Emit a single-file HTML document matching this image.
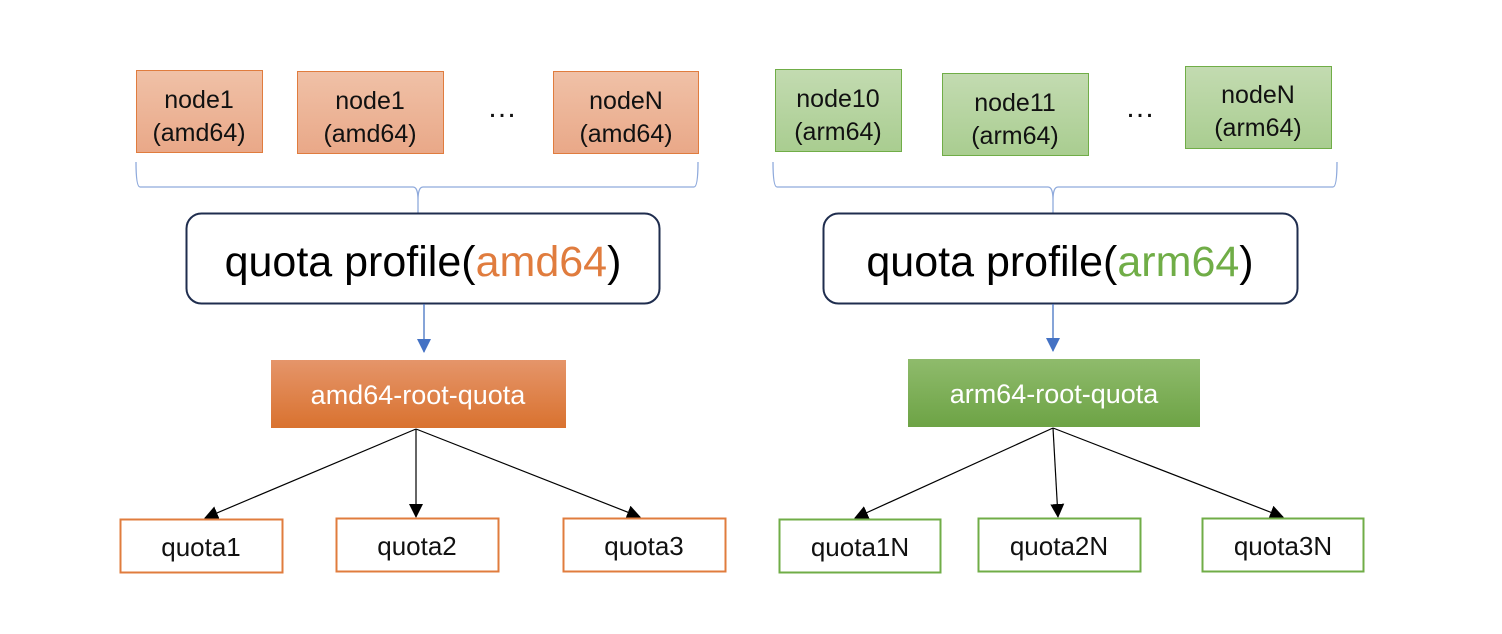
<!DOCTYPE html>
<html><head><meta charset="utf-8"><style>
html,body{margin:0;padding:0;background:#fff}
svg{display:block}
text{font-family:"Liberation Sans","Noto Sans CJK SC",sans-serif}
</style></head><body>
<svg width="1502" height="634" viewBox="0 0 1502 634" xmlns="http://www.w3.org/2000/svg">
<defs>
<linearGradient id="go" x1="0" y1="0" x2="0" y2="1"><stop offset="0" stop-color="#f0c1a7"/><stop offset="1" stop-color="#e9a888"/></linearGradient>
<linearGradient id="gg" x1="0" y1="0" x2="0" y2="1"><stop offset="0" stop-color="#c3dbb1"/><stop offset="1" stop-color="#a9cd90"/></linearGradient>
<linearGradient id="ro" x1="0" y1="0" x2="0" y2="1"><stop offset="0" stop-color="#e5956a"/><stop offset="1" stop-color="#d9722f"/></linearGradient>
<linearGradient id="rg" x1="0" y1="0" x2="0" y2="1"><stop offset="0" stop-color="#8fbb6c"/><stop offset="1" stop-color="#6da345"/></linearGradient>
<marker id="abl" markerWidth="14" markerHeight="16" refX="13" refY="8" orient="auto" markerUnits="userSpaceOnUse"><path d="M0,1 L14,8 L0,15 z" fill="#4472c4"/></marker>
<marker id="ak" markerWidth="14" markerHeight="14" refX="13" refY="7" orient="auto" markerUnits="userSpaceOnUse"><path d="M0,0 L14,7 L0,14 z" fill="#000"/></marker>
</defs>
<g font-size="25" fill="#111" text-anchor="middle">
<rect x="136.5" y="70.5" width="126" height="82" fill="url(#go)" stroke="#e07c3e"/>
<text x="199" y="108">node1</text><text x="199" y="141">(amd64)</text>
<rect x="297.5" y="71.5" width="146" height="82" fill="url(#go)" stroke="#e07c3e"/>
<text x="370" y="109">node1</text><text x="370" y="142">(amd64)</text>
<text x="502" y="117" font-size="30">…</text>
<rect x="553.5" y="71.5" width="145" height="82" fill="url(#go)" stroke="#e07c3e"/>
<text x="626" y="109">nodeN</text><text x="626" y="142">(amd64)</text>
<rect x="775.5" y="69.5" width="126" height="82" fill="url(#gg)" stroke="#70ad47"/>
<text x="838" y="107">node10</text><text x="838" y="140">(arm64)</text>
<rect x="942.5" y="73.5" width="146" height="82" fill="url(#gg)" stroke="#70ad47"/>
<text x="1015" y="111">node11</text><text x="1015" y="144">(arm64)</text>
<text x="1140" y="117" font-size="30">…</text>
<rect x="1185.5" y="66.5" width="146" height="82" fill="url(#gg)" stroke="#70ad47"/>
<text x="1258" y="103">nodeN</text><text x="1258" y="136">(arm64)</text>
</g>
<g fill="none" stroke="#8faadc" stroke-width="1.3">
<path d="M136,162 Q136,187 140,187 L413,187 Q418,187 418,200 L418,213 M418,200 Q418,187 423,187 L694,187 Q698,187 698,162"/>
<path d="M773,162 Q773,187 777,187 L1048,187 Q1053,187 1053,200 L1053,213 M1053,200 Q1053,187 1058,187 L1333,187 Q1337,187 1337,162"/>
</g>
<rect x="186.5" y="213.5" width="473" height="90" rx="15" fill="#fff" stroke="#1f2d4e" stroke-width="2"/>
<text x="423" y="276" font-size="43" text-anchor="middle" fill="#000">quota profile(<tspan fill="#e07c3e">amd64</tspan>)</text>
<rect x="823.5" y="213.5" width="474" height="90" rx="15" fill="#fff" stroke="#1f2d4e" stroke-width="2"/>
<text x="1060" y="276" font-size="43" text-anchor="middle" fill="#000">quota profile(<tspan fill="#70ad47">arm64</tspan>)</text>
<line x1="424" y1="304" x2="424" y2="352" stroke="#4472c4" stroke-width="1.3" marker-end="url(#abl)"/>
<line x1="1053" y1="304" x2="1053" y2="351" stroke="#4472c4" stroke-width="1.3" marker-end="url(#abl)"/>
<rect x="271" y="360" width="295" height="68" fill="url(#ro)"/>
<text x="418" y="404" font-size="27" fill="#fff" text-anchor="middle">amd64-root-quota</text>
<rect x="908" y="359" width="292" height="68" fill="url(#rg)"/>
<text x="1054" y="403" font-size="27" fill="#fff" text-anchor="middle">arm64-root-quota</text>
<g stroke="#000" stroke-width="1.2">
<line x1="416" y1="429" x2="205" y2="518" marker-end="url(#ak)"/>
<line x1="416" y1="429" x2="416" y2="517" marker-end="url(#ak)"/>
<line x1="416" y1="429" x2="640" y2="517" marker-end="url(#ak)"/>
<line x1="1053" y1="428" x2="855" y2="518" marker-end="url(#ak)"/>
<line x1="1053" y1="428" x2="1058" y2="517" marker-end="url(#ak)"/>
<line x1="1053" y1="428" x2="1283" y2="517" marker-end="url(#ak)"/>
</g>
<g font-size="26" fill="#111" text-anchor="middle">
<rect x="120.5" y="519.5" width="162" height="53" fill="#fff" stroke="#e07c3e" stroke-width="2"/><text x="201" y="556">quota1</text>
<rect x="336.5" y="518.5" width="162" height="53" fill="#fff" stroke="#e07c3e" stroke-width="2"/><text x="417" y="555">quota2</text>
<rect x="563.5" y="518.5" width="162" height="53" fill="#fff" stroke="#e07c3e" stroke-width="2"/><text x="644" y="555">quota3</text>
<rect x="779.5" y="519.5" width="161" height="53" fill="#fff" stroke="#70ad47" stroke-width="2"/><text x="860" y="556">quota1N</text>
<rect x="978.5" y="518.5" width="162" height="53" fill="#fff" stroke="#70ad47" stroke-width="2"/><text x="1059" y="555">quota2N</text>
<rect x="1202.5" y="518.5" width="161" height="53" fill="#fff" stroke="#70ad47" stroke-width="2"/><text x="1283" y="555">quota3N</text>
</g>
</svg>
</body></html>
